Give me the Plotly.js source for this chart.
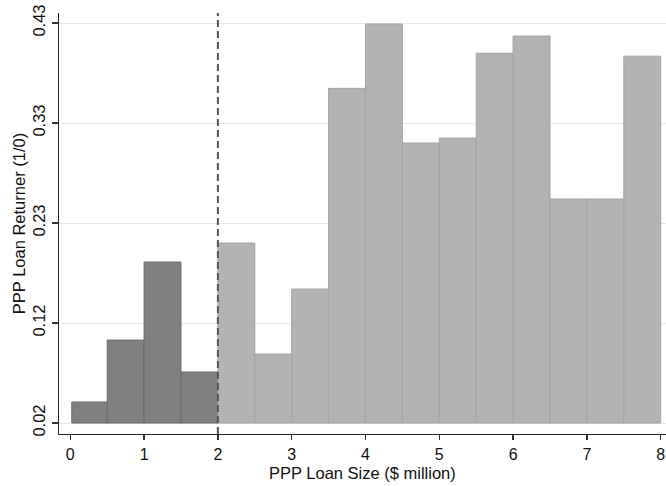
<!DOCTYPE html>
<html>
<head>
<meta charset="utf-8">
<script src="https://cdn.plot.ly/plotly-3.0.1.min.js"></script>
<style>html,body{margin:0;padding:0;background:#fff;}#chart{width:666px;height:486px;}</style>
</head>
<body>
<div id="chart"></div>
<script>
// Bin edges ($ million) and bar heights (share of PPP loan returners)
const binLeft  = [0.02, 0.5, 1.0, 1.5, 2.0, 2.5, 3.0, 3.5, 4.0, 4.5, 5.0, 5.5, 6.0, 6.5, 7.0, 7.5];
const binRight = [0.5, 1.0, 1.5, 2.0, 2.5, 3.0, 3.5, 4.0, 4.5, 5.0, 5.5, 6.0, 6.5, 7.0, 7.5, 8.0];
const returnerShare = [0.0415, 0.105, 0.185, 0.0723, 0.2045, 0.0907, 0.1573, 0.363, 0.429, 0.307, 0.312, 0.399, 0.4167, 0.2496, 0.2496, 0.396];
const cutoff = 2;
const yBase = 0.02;
const yTickVals = [0.02, 0.1225, 0.225, 0.3275, 0.43];
const yTickText = ["0.02", "0.12", "0.23", "0.33", "0.43"];
const xTickVals = [0, 1, 2, 3, 4, 5, 6, 7, 8];
const xTitle = 'PPP Loan Size ($ million)';
const yTitle = 'PPP Loan Returner (1/0)';

function subset(cond) {
  const x = [], w = [], y = [], b = [];
  for (let i = 0; i < binLeft.length; i++) {
    if (cond(binRight[i])) {
      x.push((binLeft[i] + binRight[i]) / 2);
      w.push(binRight[i] - binLeft[i]);
      y.push(returnerShare[i] - yBase);
      b.push(yBase);
    }
  }
  return {x, w, y, b};
}
const below = subset(r => r <= cutoff);
const above = subset(r => r > cutoff);

const traces = [
  {type: 'bar', x: below.x, y: below.y, base: below.b, width: below.w,
   marker: {color: '#808080', line: {color: '#6a6a6a', width: 1}}, hoverinfo: 'skip'},
  {type: 'bar', x: above.x, y: above.y, base: above.b, width: above.w,
   marker: {color: '#b3b3b3', line: {color: '#a4a4a4', width: 1}}, hoverinfo: 'skip'}
];

const font = {family: 'Liberation Sans, Arial, sans-serif', size: 16.5, color: '#111'};
const xTickFont = {family: 'Liberation Sans, Arial, sans-serif', size: 16, color: '#111'};

const layout = {
  width: 666, height: 486,
  margin: {l: 59, r: 0, t: 13, b: 52, pad: 0},
  paper_bgcolor: '#fff', plot_bgcolor: '#fff',
  showlegend: false,
  bargap: 0,
  font: font,
  xaxis: {
    range: [-0.153, 8.072],
    tickvals: xTickVals,
    ticktext: xTickVals.map(String),
    ticks: 'outside', ticklen: 5, tickwidth: 1.3, tickcolor: '#333',
    showline: true, linecolor: '#222', linewidth: 1.3,
    showgrid: false, zeroline: false,
    tickfont: xTickFont,
    automargin: false
  },
  yaxis: {
    range: [0.00873, 0.44025],
    tickvals: yTickVals,
    ticktext: yTickText,
    tickangle: -90,
    ticks: 'outside', ticklen: 6, tickwidth: 1.3, tickcolor: '#333',
    showline: true, linecolor: '#222', linewidth: 1.3,
    showgrid: true, gridcolor: '#e8e8e8', gridwidth: 1,
    zeroline: false,
    tickfont: font,
    title: {text: yTitle, font: font, standoff: 0},
    automargin: false
  },
  annotations: [{
    text: xTitle, xref: 'paper', yref: 'paper', x: 0.5, y: -0.0925,
    xanchor: 'center', yanchor: 'middle', showarrow: false, font: font, borderpad: 0
  }],
  shapes: [{
    type: 'line', xref: 'x', yref: 'paper', x0: cutoff, x1: cutoff, y0: 0, y1: 1,
    line: {color: '#555', width: 2, dash: '7px,4px'}, layer: 'above'
  }]
};

Plotly.newPlot('chart', traces, layout, {staticPlot: true, displayModeBar: false});
</script>
</body>
</html>
